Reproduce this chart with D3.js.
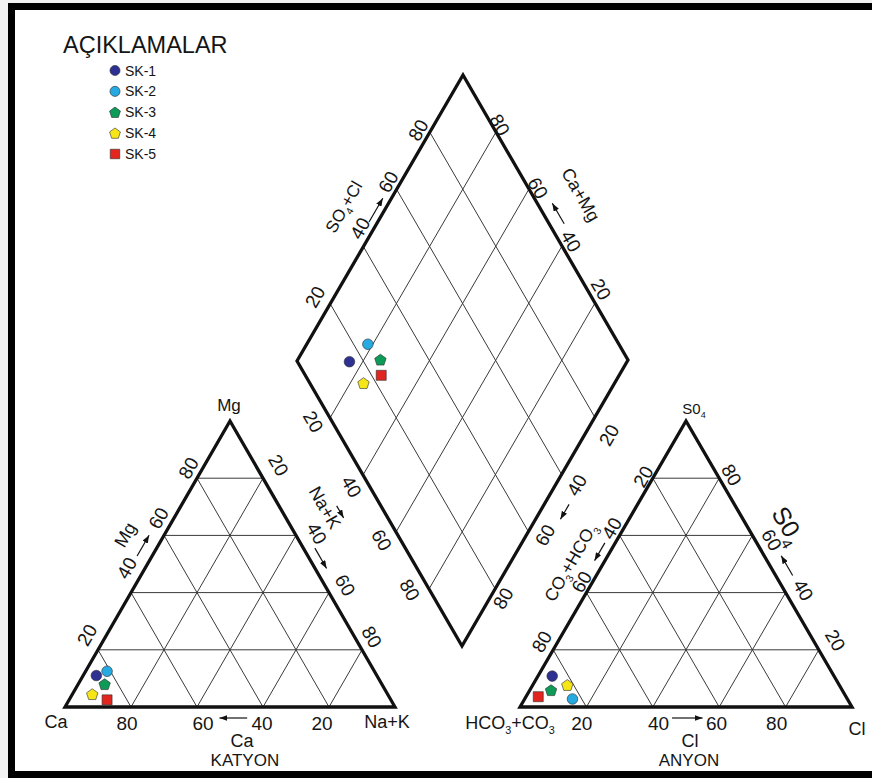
<!DOCTYPE html>
<html>
<head>
<meta charset="utf-8">
<script src="https://cdn.jsdelivr.net/npm/d3@7"></script>
<style>
  html, body { margin: 0; padding: 0; background: #f2f2f2; overflow: hidden; }
  svg text { font-family: "Liberation Sans", Arial, Helvetica, sans-serif; fill: #151515; }
</style>
</head>
<body>
<svg id="chart" width="872" height="778"></svg>
<script>
// ---------------- data ----------------
const samples = ["SK-1", "SK-2", "SK-3", "SK-4", "SK-5"];
const sampleColors = ["#2e3192", "#27a9e1", "#0e9a57", "#f6e618", "#e2261f"];
const sampleShapes = ["circle", "circle", "pentagon", "pentagon", "square"];

// cation triangle (% meq/l)
const cationMg  = [11, 12.5, 8, 4.5, 2.5];
const cationNaK = [4, 6.5, 8, 6, 11.5];

// anion triangle (% meq/l)
const anionSO4 = [10.8, 2.8, 5.9, 7.7, 3.6];
const anionCl  = [4.3, 14.4, 6.4, 10.4, 3.7];

// central diamond (% meq/l)
const diamondNaK   = [16, 18.5, 25, 24, 28];
const diamondSO4Cl = [15.7, 24.3, 25.4, 16.2, 22.9];

const tickValues = [20, 40, 60, 80];
const legendTitle = "AÇIKLAMALAR";

// ---------------- layout ----------------
const W = 872, H = 778;
const svg = d3.select("#chart");
const pct = d3.scaleLinear().domain([0, 100]).range([0, 1]);

const cat = { A: [65, 707], B: [395, 707], C: [230, 421] };   // Ca, Na+K, Mg
const an  = { A: [520, 707], B: [852, 707], C: [686, 421] };  // HCO3+CO3, Cl, SO4
const dia = { L: [297, 361], B: [462, 646], T: [463, 75] };
dia.R = [dia.B[0] + dia.T[0] - dia.L[0], dia.B[1] + dia.T[1] - dia.L[1]];

function ternary(tri, bPct, cPct) {
  const b = pct(bPct), c = pct(cPct);
  return [tri.A[0] + b * (tri.B[0] - tri.A[0]) + c * (tri.C[0] - tri.A[0]),
          tri.A[1] + b * (tri.B[1] - tri.A[1]) + c * (tri.C[1] - tri.A[1])];
}
function diamondPt(aPct, bPct) {
  const a = pct(aPct), b = pct(bPct);
  return [dia.L[0] + a * (dia.B[0] - dia.L[0]) + b * (dia.T[0] - dia.L[0]),
          dia.L[1] + a * (dia.B[1] - dia.L[1]) + b * (dia.T[1] - dia.L[1])];
}
function edge(p0, p1, side) {
  const dx = p1[0] - p0[0], dy = p1[1] - p0[1], len = Math.hypot(dx, dy);
  let ang = Math.atan2(dy, dx) * 180 / Math.PI;
  if (ang > 90) ang -= 180;
  if (ang < -90) ang += 180;
  return { p0, p1, nx: side * dy / len, ny: -side * dx / len, ang };
}
function onEdge(e, f, n) {
  return [e.p0[0] + (e.p1[0] - e.p0[0]) * f + e.nx * n,
          e.p0[1] + (e.p1[1] - e.p0[1]) * f + e.ny * n];
}

const E = {
  catL: edge(cat.A, cat.C, 1), catR: edge(cat.C, cat.B, 1), catB: edge(cat.A, cat.B, -1),
  anL: edge(an.A, an.C, 1),    anR: edge(an.C, an.B, 1),    anB: edge(an.A, an.B, -1),
  diaUL: edge(dia.L, dia.T, 1), diaUR: edge(dia.T, dia.R, 1),
  diaLL: edge(dia.L, dia.B, -1), diaLR: edge(dia.R, dia.B, 1)
};

// ---------------- background & frame ----------------
svg.append("rect").attr("width", W).attr("height", H).attr("fill", "#f2f2f2");
svg.append("rect")
  .attr("x", 11.5).attr("y", 6.5).attr("width", W).attr("height", 768)
  .attr("fill", "#ffffff").attr("stroke", "#000").attr("stroke-width", 7);

const defs = svg.append("defs");
defs.append("marker")
  .attr("id", "arrowhead").attr("viewBox", "0 0 8 6")
  .attr("refX", 8).attr("refY", 3)
  .attr("markerWidth", 8).attr("markerHeight", 6)
  .attr("markerUnits", "userSpaceOnUse").attr("orient", "auto")
  .append("path").attr("d", "M0,0 L8,3 L0,6 Z").attr("fill", "#111");

// ---------------- grids ----------------
const gridLines = [];
[cat, an].forEach(tri => {
  tickValues.forEach(v => {
    gridLines.push([ternary(tri, 0, v), ternary(tri, 100 - v, v)]);
    gridLines.push([ternary(tri, v, 0), ternary(tri, v, 100 - v)]);
    gridLines.push([ternary(tri, 100 - v, 0), ternary(tri, 0, 100 - v)]);
  });
});
tickValues.forEach(v => {
  gridLines.push([diamondPt(v, 0), diamondPt(v, 100)]);
  gridLines.push([diamondPt(0, v), diamondPt(100, v)]);
});

const line = d3.line();
svg.append("g").selectAll("path").data(gridLines).join("path")
  .attr("d", d => line(d))
  .attr("fill", "none").attr("stroke", "#3a3a3a").attr("stroke-width", 1);

// ---------------- outlines ----------------
const closed = d3.line().curve(d3.curveLinearClosed);
const outlines = [
  [cat.A, cat.B, cat.C],
  [an.A, an.B, an.C],
  [dia.L, dia.B, dia.R, dia.T]
];
svg.append("g").selectAll("path").data(outlines).join("path")
  .attr("d", d => closed(d))
  .attr("fill", "none").attr("stroke", "#111").attr("stroke-width", 3.3)
  .attr("stroke-linejoin", "miter");

// ---------------- text helpers ----------------
// parts: plain strings, or one-element arrays for subscripts
function writeParts(text, parts, size) {
  let lowered = false;
  parts.forEach(p => {
    if (Array.isArray(p)) {
      text.append("tspan").attr("font-size", size * 0.6).attr("dy", size * 0.28).text(p[0]);
      lowered = true;
    } else {
      const ts = text.append("tspan").attr("font-size", size).text(p);
      if (lowered) { ts.attr("dy", -size * 0.28); lowered = false; }
    }
  });
}
function placeText(g, x, y, ang, parts, size) {
  const t = g.append("text")
    .attr("transform", `translate(${x},${y}) rotate(${ang})`)
    .attr("text-anchor", "middle").attr("dy", "0.35em")
    .attr("font-size", size);
  writeParts(t, parts, size);
}

const labels = svg.append("g");

// tick numbers along each edge
const tickLayout = [
  { e: "catL",  rev: false, f: [.222, .458, .637, .814], n: [17, 16, 13.5, 12.5] },
  { e: "catR",  rev: false, f: [.189, .426, .605, .781], n: [20, 19, 17.7, 15] },
  { e: "catB",  rev: true,  f: [.188, .418, .597, .779], n: [16, 16, 16, 16] },
  { e: "anL",   rev: true,  f: [.204, .421, .607, .790], n: [14, 9.5, 10.4, 9] },
  { e: "anR",   rev: true,  f: [.210, .441, .620, .800], n: [12.4, 14.4, 16.7, 19] },
  { e: "anB",   rev: false, f: [.186, .417, .592, .773], n: [16, 16, 16, 16] },
  { e: "diaUL", rev: false, f: [.195, .443, .607, .788], n: [16.7, 12.1, 11, 11.1] },
  { e: "diaUR", rev: true,  f: [.187, .411, .601, .773], n: [6.9, 8.2, 10.3, 12.1] },
  { e: "diaLL", rev: false, f: [.184, .413, .599, .773], n: [16.3, 15.7, 16.4, 17] },
  { e: "diaLR", rev: false, f: [.225, .405, .584, .813], n: [21.3, 18.4, 16.1, 11.7] }
];
tickLayout.forEach(L => {
  const e = E[L.e];
  L.f.forEach((f, k) => {
    const v = L.rev ? tickValues[tickValues.length - 1 - k] : tickValues[k];
    const [x, y] = onEdge(e, f, L.n[k]);
    placeText(labels, x, y, e.ang, [String(v)], 19);
  });
});

// direction arrows
const arrowLayout = [
  { e: "catL",  f0: .505, f1: .578, n: 13 },
  { e: "catR",  f0: .462, f1: .533, n: 10 },
  { e: "catR",  f0: .384, f1: .426, n: 50 },
  { e: "catB",  f0: .552, f1: .468, n: 11 },
  { e: "anL",   f0: .558, f1: .496, n: 9 },
  { e: "anR",   f0: .566, f1: .497, n: 14.7 },
  { e: "anB",   f0: .458, f1: .550, n: 11 },
  { e: "diaUL", f0: .473, f1: .556, n: 7.5 },
  { e: "diaUR", f0: .545, f1: .473, n: 13 },
  { e: "diaLR", f0: .467, f1: .519, n: 21.5 }
];
svg.append("g").selectAll("line").data(arrowLayout).join("line")
  .each(function (d) {
    const p0 = onEdge(E[d.e], d.f0, d.n), p1 = onEdge(E[d.e], d.f1, d.n);
    d3.select(this).attr("x1", p0[0]).attr("y1", p0[1]).attr("x2", p1[0]).attr("y2", p1[1]);
  })
  .attr("stroke", "#111").attr("stroke-width", 1.2)
  .attr("marker-end", "url(#arrowhead)");

// axis titles
const axisTitles = [
  { e: "catL",  f: .543, n: 34, parts: ["Mg"], size: 18 },
  { e: "catR",  f: .371, n: 39, parts: ["Na+K"], size: 18 },
  { e: "catB",  f: .536, n: 34, parts: ["Ca"], size: 18 },
  { e: "catB",  f: .545, n: 53, parts: ["KATYON"], size: 17 },
  { e: "anL",   f: .455, n: 29, parts: ["CO", ["3"], "+HCO", ["3"]], size: 17.5 },
  { e: "anR",   f: .428, n: 36, parts: ["S0", ["4"]], size: 25 },
  { e: "anB",   f: .512, n: 34, parts: ["Cl"], size: 18 },
  { e: "anB",   f: .509, n: 53, parts: ["ANYON"], size: 17 },
  { e: "diaUL", f: .474, n: 37, parts: ["SO", ["4"], "+Cl"], size: 17 },
  { e: "diaUR", f: .494, n: 42, parts: ["Ca+Mg"], size: 18 }
];
axisTitles.forEach(t => {
  const e = E[t.e];
  const [x, y] = onEdge(e, t.f, t.n);
  placeText(labels, x, y, e.ang, t.parts, t.size);
});

// corner labels
const cornerLabels = [
  { p: cat.A, dx: -9,  dy: 15,  parts: ["Ca"], size: 18 },
  { p: cat.B, dx: -8,  dy: 15,  parts: ["Na+K"], size: 18 },
  { p: cat.C, dx: -1,  dy: -16, parts: ["Mg"], size: 17 },
  { p: an.A,  dx: -10, dy: 16,  parts: ["HCO", ["3"], "+CO", ["3"]], size: 18 },
  { p: an.B,  dx: 5,   dy: 22,  parts: ["Cl"], size: 18 },
  { p: an.C,  dx: 8,   dy: -12, parts: ["S0", ["4"]], size: 15 }
];
cornerLabels.forEach(c => placeText(labels, c.p[0] + c.dx, c.p[1] + c.dy, 0, c.parts, c.size));

// ---------------- sample markers ----------------
function markerPath(shape, k) {
  if (shape === "circle") return d3.symbol(d3.symbolCircle, Math.PI * 5.3 * 5.3 * k * k)();
  if (shape === "square") return d3.symbol(d3.symbolSquare, 100 * k * k)();
  const r = 6 * k, p = d3.path();
  for (let i = 0; i < 5; i++) {
    const a = -Math.PI / 2 + i * 2 * Math.PI / 5;
    const x = r * Math.cos(a), y = r * Math.sin(a) + r * 0.1;
    i ? p.lineTo(x, y) : p.moveTo(x, y);
  }
  p.closePath();
  return p.toString();
}

const panelPoints = [
  samples.map((s, i) => ({ i, p: ternary(cat, cationNaK[i], cationMg[i]) })),
  samples.map((s, i) => ({ i, p: ternary(an, anionCl[i], anionSO4[i]) })),
  samples.map((s, i) => ({ i, p: diamondPt(diamondNaK[i], diamondSO4Cl[i]) }))
];
const markers = svg.append("g");
panelPoints.forEach(pts => {
  markers.append("g").selectAll("path").data(pts).join("path")
    .attr("transform", d => `translate(${d.p[0]},${d.p[1]})`)
    .attr("d", d => markerPath(sampleShapes[d.i], 1))
    .attr("fill", d => sampleColors[d.i])
    .attr("stroke", "#2a2a2a").attr("stroke-width", 0.6);
});

// ---------------- legend ----------------
const legend = svg.append("g");
legend.append("text").attr("x", 63).attr("y", 52.5).attr("font-size", 23.5).text(legendTitle);
const legendY = d3.scaleLinear().domain([0, samples.length - 1]).range([70.5, 154]);
const items = legend.selectAll("g.item").data(samples).join("g").attr("class", "item")
  .attr("transform", (d, i) => `translate(115,${legendY(i)})`);
items.append("path")
  .attr("d", (d, i) => markerPath(sampleShapes[i], 0.95))
  .attr("fill", (d, i) => sampleColors[i])
  .attr("stroke", "#2a2a2a").attr("stroke-width", 0.6);
items.append("text").attr("x", 10).attr("dy", "0.36em").attr("font-size", 14).text(d => d);
</script>
</body>
</html>
